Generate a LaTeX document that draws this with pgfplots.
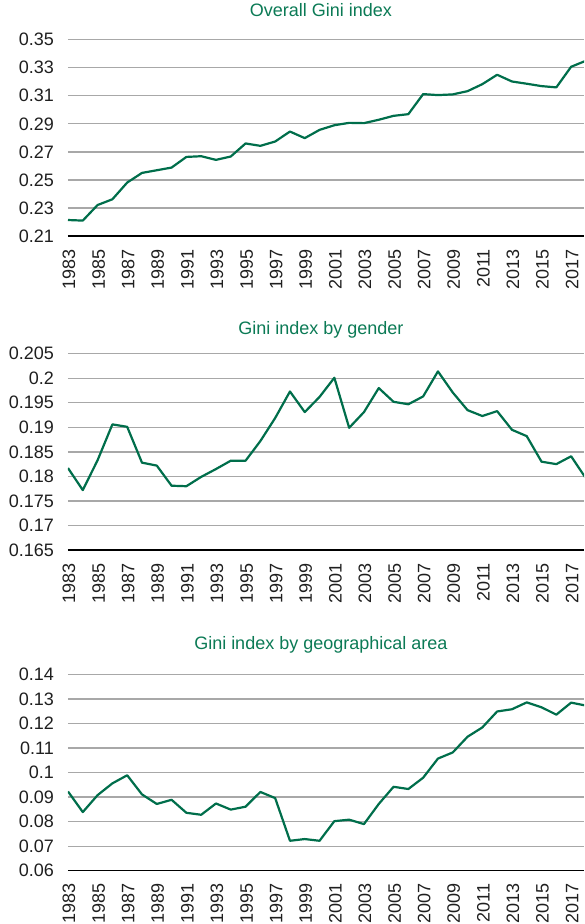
\documentclass[border=0pt]{standalone}
\usepackage{fontspec}
\setmainfont{Liberation Sans}
\usepackage{pgfplots}
\pgfplotsset{compat=1.18}
\definecolor{gline}{HTML}{006E4B}
\definecolor{gtitle}{HTML}{0B7A55}
\definecolor{ggrid}{HTML}{A8A8A8}
\pgfplotsset{
  panel/.style={
    scale only axis, width=516pt, height=196.3pt,
    xmin=1983, xmax=2017.87,
    axis x line*=bottom, axis y line*=left,
    y axis line style={draw=none},
    x axis line style={black, line width=1.4pt},
    major tick length=0pt,
    ymajorgrids, grid style={ggrid, line width=1.3pt},
    xtick={1983,1985,...,2017},
    xticklabels={1983,1985,1987,1989,1991,1993,1995,1997,1999,2001,2003,2005,2007,2009,2011,2013,2015,2017},
    x tick label style={rotate=90, anchor=east, inner sep=0pt, yshift=-1pt},
    xticklabel shift=13pt,
    y tick label style={anchor=east, inner sep=0pt},
    yticklabel shift=14pt,
    tick label style={font=\fontsize{18}{20}\selectfont, text=black!88},
    title style={font=\fontsize{18}{20}\selectfont, text=gtitle, anchor=center},
    clip=true,
  },
  gl/.style={gline, line width=2.2pt, mark=none, line join=round},
}
\begin{document}
\begin{tikzpicture}
\path[use as bounding box] (-68pt,-924pt) rectangle (516pt,0pt);
% Panel 1
\begin{axis}[panel, at={(0pt,-236pt)}, anchor=south west,
  ymin=0.21, ymax=0.35, ytick={0.21,0.23,...,0.35},
  yticklabels={0.21,0.23,0.25,0.27,0.29,0.31,0.33,0.35},
  title={Overall Gini index}, title style={at={(0.49,1)}, yshift=24pt}]
\addplot[gl] coordinates {
(1983,0.2214)(1984,0.2210)(1985,0.2321)(1986,0.2362)(1987,0.2481)(1988,0.2550)
(1989,0.2569)(1990,0.2588)(1991,0.2664)(1992,0.2669)(1993,0.2643)(1994,0.2667)
(1995,0.2760)(1996,0.2743)(1997,0.2774)(1998,0.2845)(1999,0.2798)(2000,0.2857)
(2001,0.2890)(2002,0.2907)(2003,0.2905)(2004,0.2929)(2005,0.2957)(2006,0.2969)
(2007,0.3112)(2008,0.3105)(2009,0.3110)(2010,0.3133)(2011,0.3183)(2012,0.3250)
(2013,0.3202)(2014,0.3186)(2015,0.3169)(2016,0.3160)(2017,0.3307)(2018,0.3350)};
\end{axis}
% Panel 2
\begin{axis}[panel, at={(0pt,-550pt)}, anchor=south west,
  ymin=0.165, ymax=0.205, ytick={0.165,0.17,0.175,0.18,0.185,0.19,0.195,0.2,0.205},
  yticklabels={0.165,0.17,0.175,0.18,0.185,0.19,0.195,0.2,0.205},
  title={Gini index by gender}, title style={at={(0.49,1)}, yshift=18pt}]
\addplot[gl] coordinates {
(1983,0.1817)(1984,0.1772)(1985,0.1833)(1986,0.1906)(1987,0.1901)(1988,0.1828)
(1989,0.1822)(1990,0.1781)(1991,0.1780)(1992,0.1799)(1993,0.1815)(1994,0.1832)
(1995,0.1832)(1996,0.1872)(1997,0.1919)(1998,0.1973)(1999,0.1931)(2000,0.1962)
(2001,0.2001)(2002,0.1899)(2003,0.1931)(2004,0.1980)(2005,0.1952)(2006,0.1947)
(2007,0.1963)(2008,0.2014)(2009,0.1971)(2010,0.1935)(2011,0.1923)(2012,0.1933)
(2013,0.1895)(2014,0.1882)(2015,0.1830)(2016,0.1825)(2017,0.1841)(2018,0.1796)};
\end{axis}
% Panel 3
\begin{axis}[panel, at={(0pt,-870.7pt)}, anchor=south west,
  ymin=0.06, ymax=0.14, ytick={0.06,0.07,...,0.14},
  yticklabels={0.06,0.07,0.08,0.09,0.1,0.11,0.12,0.13,0.14},
  title={Gini index by geographical area}, title style={at={(0.49,1)}, yshift=24pt}]
\addplot[gl] coordinates {
(1983,0.0923)(1984,0.0839)(1985,0.0908)(1986,0.0956)(1987,0.0989)(1988,0.0911)
(1989,0.0872)(1990,0.0889)(1991,0.0836)(1992,0.0828)(1993,0.0874)(1994,0.0849)
(1995,0.0861)(1996,0.0921)(1997,0.0896)(1998,0.0722)(1999,0.0729)(2000,0.0722)
(2001,0.0802)(2002,0.0808)(2003,0.0790)(2004,0.0872)(2005,0.0942)(2006,0.0933)
(2007,0.0979)(2008,0.1057)(2009,0.1082)(2010,0.1146)(2011,0.1184)(2012,0.1249)
(2013,0.1258)(2014,0.1286)(2015,0.1266)(2016,0.1236)(2017,0.1285)(2018,0.1273)};
\end{axis}
\end{tikzpicture}
\end{document}
